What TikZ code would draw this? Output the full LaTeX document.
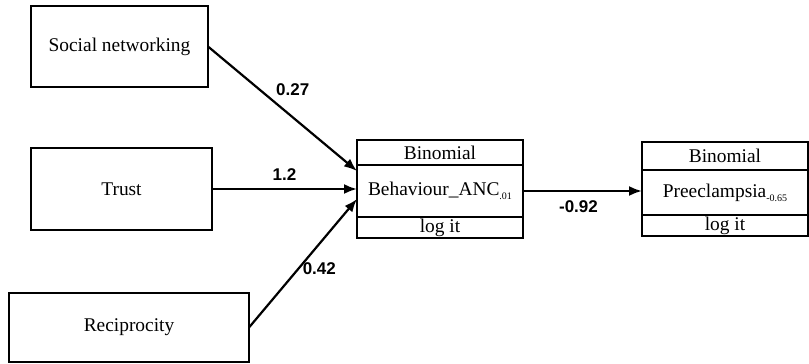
\documentclass[tikz,border=0pt]{standalone}
\usepackage{fontspec}
\setmainfont{Liberation Serif}
\setsansfont{Liberation Sans}
\usetikzlibrary{shapes,arrows,arrows.meta}
\newcommand{\sublab}[1]{\raisebox{-0.45ex}{\fontsize{5}{5}\selectfont #1}}
\tikzstyle{block} = [draw, fill=white, rectangle, line width=1.1pt, inner sep=0pt, outer sep=0pt,
    font=\fontsize{9.7}{11}\selectfont]
\tikzstyle{part} = [block, minimum width=83pt]
\tikzstyle{partlow} = [part, minimum height=10.4pt, text height=7pt, text depth=2.2pt, anchor=north]
\tikzstyle{coef} = [font=\sffamily\bfseries\fontsize{8.5}{10}\selectfont, inner sep=1.5pt]
\tikzstyle{link} = [->, line width=1.1pt]

\begin{document}
\begin{tikzpicture}[x=0.5pt, y=-0.5pt, >={Latex[length=6.5pt,width=5pt]}]
\useasboundingbox (0,0) rectangle (809,364);

    % We start by placing the blocks
    \node [block, minimum width=88.5pt, minimum height=40.5pt] (social) at (119.5,46.5) {Social networking};
    \node [block, minimum width=90.5pt, minimum height=41pt] (trust) at (121.5,189) {Trust};
    \node [block, minimum width=120pt, minimum height=34.5pt] (recip) at (129,327.5) {Reciprocity};

    \node [part, minimum height=26pt] (behaviour) at (440,191) {Behaviour\_ANC\sublab{.01}};
    \node [part, minimum height=12.5pt, anchor=south] (behaviour_top) at (behaviour.north) {Binomial};
    \node [partlow] (behaviour_bot) at (behaviour.south) {log it};

    \node [part, minimum height=22.5pt] (preecl) at (725,192.5) {Preeclampsia\sublab{-0.65}};
    \node [part, minimum height=14pt, anchor=south] (preecl_top) at (preecl.north) {Binomial};
    \node [partlow] (preecl_bot) at (preecl.south) {log it};

    % Once the nodes are placed, connecting them is easy.
    \draw [link] (social.east) -- node[coef, pos=0.43, above right] {0.27} ([yshift=-3pt]behaviour.north west);
    \draw [link] (trust.east) -- node[coef, midway, above, yshift=2pt] {1.2} (trust.east -| behaviour.west);
    \draw [link] (recip.east) -- node[coef, pos=0.46, right] {0.42} ([yshift=-4pt]behaviour.west);
    \draw [link] (behaviour.east) -- node[coef, midway, below, yshift=-3pt, xshift=-2pt] {-0.92} (behaviour.east -| preecl.west);

\end{tikzpicture}
\end{document}
